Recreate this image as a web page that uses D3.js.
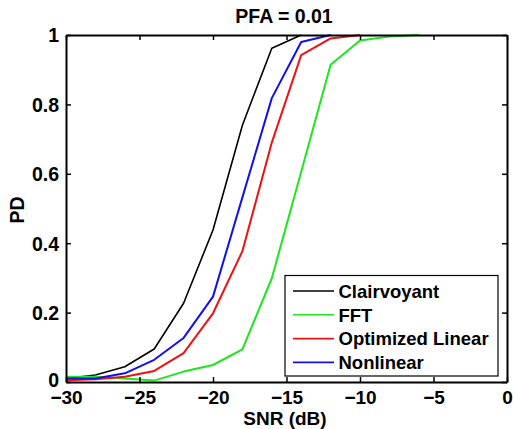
<!DOCTYPE html>
<html><head><meta charset="utf-8">
<script src="https://cdn.jsdelivr.net/npm/d3@7"></script>
<style>body{margin:0;background:#fff}text{font-family:"Liberation Sans",Arial,sans-serif;font-weight:bold}</style>
</head><body><svg id="c" width="513" height="429"></svg>
<script>
const seriesNames = ["Clairvoyant", "FFT", "Optimized Linear", "Nonlinear"];
const seriesColors = ["#000000", "#1ee61e", "#ee1111", "#1010ee"];
const snrClairvoyant = [-30, -28, -26, -24, -22, -20, -18, -16, -14];
const pdClairvoyant = [0.01, 0.02, 0.044, 0.095, 0.227, 0.438, 0.74, 0.962, 1.0];
const snrFFT = [-30, -28, -26, -24, -22, -20, -18, -16, -14, -12, -10, -8, -6];
const pdFFT = [0.015, 0.015, 0.01, 0.004, 0.03, 0.049, 0.094, 0.299, 0.606, 0.914, 0.984, 0.996, 1.0];
const snrLinear = [-30, -28, -26, -24, -22, -20, -18, -16, -14, -12, -10];
const pdLinear = [0.005, 0.008, 0.015, 0.032, 0.083, 0.198, 0.377, 0.69, 0.942, 0.99, 1.0];
const snrNonlinear = [-30, -28, -26, -24, -22, -20, -18, -16, -14, -12];
const pdNonlinear = [0.01, 0.01, 0.025, 0.064, 0.127, 0.246, 0.532, 0.818, 0.98, 1.0];
const xTicks = [-30, -25, -20, -15, -10, -5, 0];
const yTicks = [0, 0.2, 0.4, 0.6, 0.8, 1];
const titleText = "PFA = 0.01";
const xLabel = "SNR (dB)";
const yLabel = "PD";

const svg = d3.select("#c");
const L = 66, R = 507, T = 35, B = 382;
const x = d3.scaleLinear().domain([-30, 0]).range([L, R]);
const y = d3.scaleLinear().domain([0, 1]).range([B, T]);

const series = [
  {name: seriesNames[0], color: seriesColors[0], xs: snrClairvoyant, ys: pdClairvoyant, w: 1.6},
  {name: seriesNames[1], color: seriesColors[1], xs: snrFFT, ys: pdFFT, w: 2},
  {name: seriesNames[2], color: seriesColors[2], xs: snrLinear, ys: pdLinear, w: 2},
  {name: seriesNames[3], color: seriesColors[3], xs: snrNonlinear, ys: pdNonlinear, w: 2}
];

svg.append("clipPath").attr("id", "clp").append("rect")
  .attr("x", L).attr("y", T - 2).attr("width", R - L).attr("height", B - T + 2);

const line = d3.line().x(d => x(d[0])).y(d => y(d[1]));
const g = svg.append("g").attr("clip-path", "url(#clp)");
series.forEach(s => {
  g.append("path").datum(s.xs.map((v, i) => [v, s.ys[i]]))
    .attr("d", line).attr("fill", "none").attr("stroke", s.color)
    .attr("stroke-width", s.w).attr("stroke-linejoin", "round");
});

// Axes
const fs = 19.5;
const xa = svg.append("g").attr("transform", `translate(0,${B})`)
  .call(d3.axisBottom(x).tickValues(xTicks).tickSizeInner(-5).tickSizeOuter(0).tickFormat(d3.format("d")));
const xt = svg.append("g").attr("transform", `translate(0,${T})`)
  .call(d3.axisTop(x).tickValues(xTicks).tickSizeInner(-5).tickSizeOuter(0).tickFormat(""));
const ya = svg.append("g").attr("transform", `translate(${L},0)`)
  .call(d3.axisLeft(y).tickValues(yTicks).tickSizeInner(-5).tickSizeOuter(0).tickPadding(7).tickFormat(d => d === 0 || d === 1 ? String(d) : d3.format(".1f")(d)));
const yr = svg.append("g").attr("transform", `translate(${R},0)`)
  .call(d3.axisRight(y).tickValues(yTicks).tickSizeInner(-5).tickSizeOuter(0).tickFormat(""));
[xa, xt, ya, yr].forEach(a => {
  a.select(".domain").attr("stroke", "#000").attr("stroke-width", 2);
  a.selectAll(".tick line").attr("stroke", "#000").attr("stroke-width", 1.5);
  a.selectAll("text").attr("font-size", fs).attr("fill", "#000")
    .style("font-family", '"Liberation Sans",Arial,sans-serif').style("font-weight", "bold");
});
xa.selectAll("text").attr("dy", null).attr("y", 21.5).attr("font-size", 19);
ya.selectAll("text").attr("dy", "0.35em").filter(d => d === 0).attr("y", -2.5);

// Title & labels
svg.append("text").attr("x", 284).attr("y", 23).attr("text-anchor", "middle")
  .attr("font-size", fs).text(titleText);
svg.append("text").attr("x", 285).attr("y", 424.5).attr("text-anchor", "middle")
  .attr("font-size", 19).text(xLabel);
svg.append("text").attr("transform", `translate(23.5,210) rotate(-90)`)
  .attr("text-anchor", "middle").attr("font-size", fs).text(yLabel);

// Legend
const lfs = 18.5;
const lg = svg.append("g");
lg.append("rect").attr("x", 285).attr("y", 275.5).attr("width", 213).attr("height", 100.5)
  .attr("fill", "#fff").attr("stroke", "#000").attr("stroke-width", 1.2);
series.forEach((s, i) => {
  const yy = 291 + i * 23.8;
  lg.append("line").attr("x1", 293).attr("x2", 334).attr("y1", yy).attr("y2", yy)
    .attr("stroke", s.color).attr("stroke-width", 1.6);
  lg.append("text").attr("x", 338.5).attr("y", yy + 6.7).attr("font-size", lfs).text(s.name);
});
</script></body></html>
